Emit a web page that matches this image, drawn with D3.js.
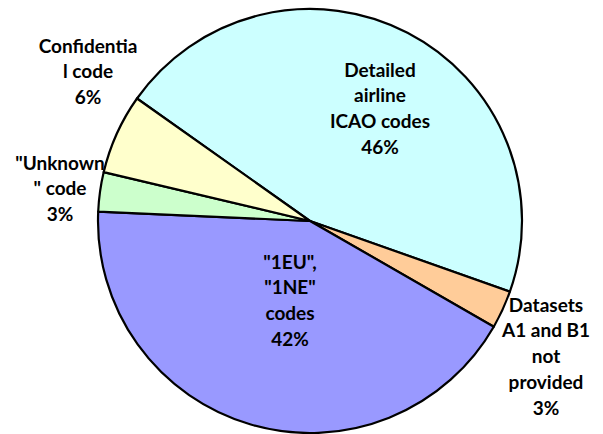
<!DOCTYPE html>
<html><head><meta charset="utf-8">
<script src="https://cdn.jsdelivr.net/npm/d3@7"></script>
<style>body{margin:0;background:#fff}svg{display:block}</style>
</head><body>
<script>
const categories = ["Detailed airline ICAO codes", "Datasets A1 and B1 not provided", "\"1EU\", \"1NE\" codes", "\"Unknown\" code", "Confidential code"];
const values = [45.6, 2.9, 42.4, 3.0, 6.1];
const percentLabels = ["46%", "3%", "42%", "3%", "6%"];
const labelLines = [
  ["Detailed", "airline", "ICAO codes"],
  ["Datasets", "A1 and B1", "not", "provided"],
  ["\"1EU\",", "\"1NE\"", "codes"],
  ["\"Unknown", "\" code"],
  ["Confidentia", "l code"]
];
const colors = ["#CCFFFF", "#FFCC99", "#9999FF", "#CCFFCC", "#FFFFCC"];

const W = 603, H = 434;
const cx = 310, cy = 221, R = 212;
const svg = d3.select("body").append("svg").attr("width", W).attr("height", H);
const g = svg.append("g").attr("transform", `translate(${cx},${cy})`);

const startA = -54.7 * Math.PI / 180;
const pie = d3.pie().sort(null).value(d => d).startAngle(startA).endAngle(startA + 2 * Math.PI);
const arcs = pie(values);
const arc = d3.arc().innerRadius(0).outerRadius(R);

g.selectAll("path.slice").data(arcs).enter().append("path")
  .attr("class", "slice")
  .attr("d", arc)
  .attr("fill", (d, i) => colors[i])
  .attr("stroke", "#000")
  .attr("stroke-width", 2.2)
  .attr("stroke-linejoin", "round");

// label positions (absolute) - centers of text blocks, first line center y
const labelPos = [
  [380, 70], [546, 305], [290, 262], [60, 163], [88, 46]
];
const lh = 25.8;
labelPos.forEach((p, i) => {
  const lines = labelLines[i].concat([percentLabels[i]]);
  const t = svg.append("text")
    .attr("text-anchor", "middle")
    .attr("font-family", "Lato, 'Open Sans', sans-serif")
    .attr("font-weight", "bold")
    .attr("font-size", 19)
    .attr("fill", "#000");
  lines.forEach((ln, j) => {
    t.append("tspan").attr("x", p[0]).attr("y", p[1] + j * lh).attr("dy", "0.35em").text(ln);
  });
});
</script>
</body></html>
